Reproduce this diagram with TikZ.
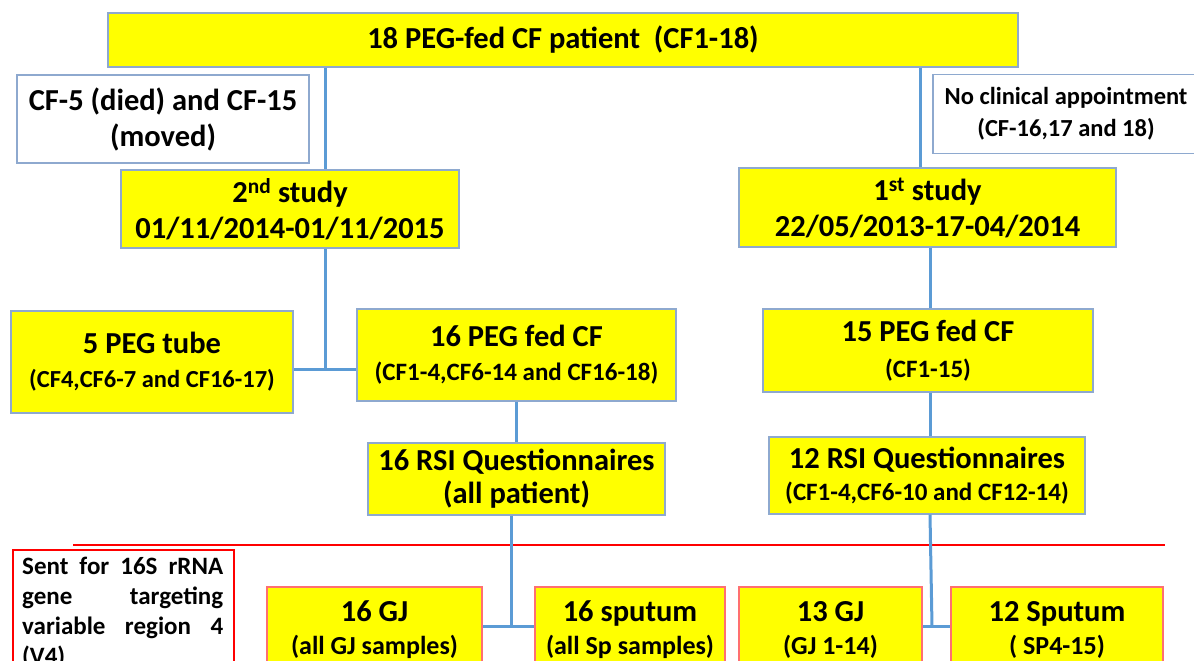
\documentclass[tikz,border=0pt]{standalone}
\usepackage{fontspec}
\setmainfont{Carlito}
\usetikzlibrary{calc}
\definecolor{peg}{HTML}{FFFF00}
\definecolor{edgeblue}{HTML}{8EA9CF}
\definecolor{linkblue}{HTML}{5B9BD5}
\definecolor{redline}{HTML}{FF0000}
\definecolor{salmon}{HTML}{FF7070}
\tikzset{
  base/.style={rectangle, inner sep=0pt, font=\bfseries\fontsize{30.5}{36}\selectfont, align=center},
  ybox/.style={base, draw=edgeblue, line width=1.4pt, fill=peg},
  wbox/.style={base, draw=edgeblue, line width=1.4pt, fill=white},
  sbox/.style={base, draw=salmon, line width=1.6pt, fill=peg},
  link/.style={draw=linkblue, line width=3pt},
}
\newcommand{\smtxt}[1]{{\fontsize{25}{30}\selectfont #1}}
\newcommand{\bmtxt}[1]{{\fontsize{26}{30}\selectfont #1}}
\begin{document}
\begin{tikzpicture}[x=1pt,y=-1pt]
\useasboundingbox (0,0) rectangle (1194,661);
\clip (0,0) rectangle (1194,661);
% boxes
\node[ybox, minimum width=910, minimum height=54] (top) at (563,40) {18 PEG-fed CF patient\ \ (CF1-18)};
\node[wbox, minimum width=292, minimum height=88] (wl) at (163,119) {CF-5 (died) and CF-15\\(moved)};
\node[wbox, minimum width=266, minimum height=79, font=\bfseries\fontsize{24.5}{32}\selectfont] (wr) at (1066,114) {No clinical appointment\\(CF-16,17 and 18)};
\node[ybox, minimum width=338, minimum height=78] (s2) at (290,209) {2\textsuperscript{nd} study\\01/11/2014-01/11/2015};
\node[ybox, minimum width=377, minimum height=79] (s1) at (927.5,207.5) {1\textsuperscript{st} study\\22/05/2013-17-04/2014};
\node[ybox, minimum width=282, minimum height=102] (peg5) at (152,362) {5 PEG tube\\[-2pt]{\fontsize{24.5}{30}\selectfont (CF4,CF6-7 and CF16-17)}};
\node[ybox, minimum width=319, minimum height=92] (peg16) at (516.5,355) {16 PEG fed CF\\[-2pt]\smtxt{(CF1-4,CF6-14 and CF16-18)}};
\node[ybox, minimum width=297, minimum height=72] (rsi16) at (516.5,479) {16 RSI Questionnaires\\[-3pt](all patient)};
\node[ybox, minimum width=330, minimum height=83] (peg15) at (928,350.5) {15 PEG fed CF\\[0pt]\smtxt{(CF1-15)}};
\node[ybox, minimum width=316, minimum height=77] (rsi12) at (927,475.5) {12 RSI Questionnaires\\[-4pt]\smtxt{(CF1-4,CF6-10 and CF12-14)}};
\node[sbox, minimum width=215, minimum height=86] (gj16) at (374.5,630) {16 GJ\\[-3pt]\bmtxt{(all GJ samples)}};
\node[sbox, minimum width=190, minimum height=86] (sp16) at (630,630) {16 sputum\\[-3pt]\bmtxt{(all Sp samples)}};
\node[sbox, minimum width=183, minimum height=86] (gj13) at (830.5,630) {13 GJ\\[-3pt]\bmtxt{(GJ 1-14)}};
\node[sbox, minimum width=212, minimum height=86] (sp12) at (1057,630) {12 Sputum\\[-3pt]\bmtxt{( SP4-15)}};
\node[rectangle, draw=redline, line width=2.5pt, minimum width=221, minimum height=150, anchor=north west] (sent) at (11.5,548.5) {};
\node[anchor=north west, inner sep=0pt, text width=201pt, align=left, font=\bfseries\fontsize{25}{30}\selectfont] (senttxt) at (22,557) {Sent\hfill for\hfill 16S\hfill rRNA\\gene\hfill targeting\\variable\hfill region\hfill 4\\(V4)};
% red separator
\draw[draw=redline, line width=2.8pt] (73,545) -- (1165,545);
% connectors
\coordinate (xa) at (325,0);
\coordinate (xb) at (920,0);
\coordinate (xc) at (930,0);
\coordinate (xd) at (516,0);
\coordinate (xe) at (511,0);
\coordinate (jA) at (325,369);
\coordinate (jB) at (511,626);
\coordinate (jC) at (932,626);
\draw[link] (top.south -| xa) -- (s2.north -| xa);
\draw[link] (top.south -| xb) -- (s1.north -| xb);
\draw[link] (s2.south -| xa) -- (jA);
\draw[link] (peg5.east |- jA) -- (peg16.west |- jA);
\draw[link] (peg16.south -| xd) -- (rsi16.north -| xd);
\draw[link] (s1.south -| xc) -- (peg15.north -| xc);
\draw[link] (peg15.south -| xc) -- (rsi12.north -| xc);
\draw[link] (rsi16.south -| xe) -- (jB);
\draw[link] (gj16.east |- jB) -- (sp16.west |- jB);
\draw[link] (rsi12.south -| xc) -- (jC);
\draw[link] (gj13.east |- jC) -- (sp12.west |- jC);
\end{tikzpicture}
\end{document}
